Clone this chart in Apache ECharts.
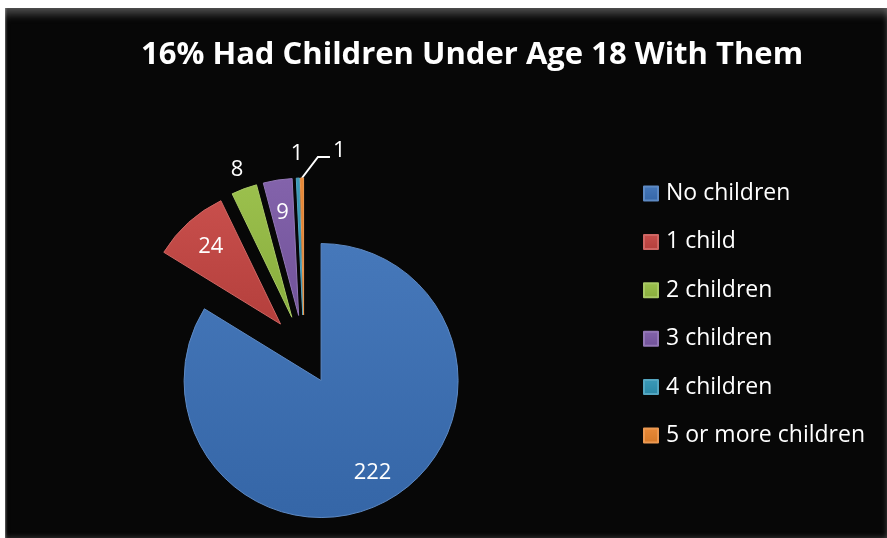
<!DOCTYPE html>
<html><head><meta charset="utf-8">
<script src="https://cdn.jsdelivr.net/npm/echarts@6/dist/echarts.min.js"></script>
<style>
html,body{margin:0;padding:0;background:#fff;width:887px;height:538px;overflow:hidden}
#frame{position:absolute;left:5px;top:8px;width:884px;height:532px;background:#070707;
 box-shadow: inset 0 10px 8px -4px rgba(190,190,190,0.38), inset 2px 0 2px -1px rgba(140,140,140,0.6), inset 0 -5px 5px -2px rgba(130,130,130,0.35), inset -5px 0 5px -2px rgba(130,130,130,0.35);}
#chart{position:absolute;left:0;top:0;width:884px;height:532px}
</style></head><body>
<div id="frame"><div id="chart"></div></div>
<script>
const titleText = '16% Had Children Under Age 18 With Them';
const categories = ['No children', '1 child', '2 children', '3 children', '4 children', '5 or more children'];
const values = [222, 24, 8, 9, 1, 1];

const colors = ['#3A6FB6', '#C44441', '#95BC42', '#7B59A6', '#2E93B3', '#E8832C'];
const CENTER = [299, 342];
const RADIUS = 137;
const EXPLODE = 35;
const FONT = 'Open Sans';
// label distance from slice apex, as a multiple of the radius
const labelRadius = [0.77, 0.76, 1.15, 0.76, 1.18, 1.0];

const total = values.reduce((a, b) => a + b, 0);
const starts = [], mids = [];
let acc = 0;
values.forEach(v => {
  const a0 = acc / total * 2 * Math.PI; acc += v;
  const a1 = acc / total * 2 * Math.PI;
  starts.push(a0);
  mids.push((a0 + a1) / 2);
});
function dir(i) { return [Math.sin(mids[i]), -Math.cos(mids[i])]; }
function apex(i) { const d = dir(i); return [CENTER[0] + EXPLODE * d[0], CENTER[1] + EXPLODE * d[1]]; }

function shade(hex, f) {
  const n = parseInt(hex.slice(1), 16);
  let r = n >> 16, g = (n >> 8) & 255, b = n & 255;
  const m = c => Math.max(0, Math.min(255, Math.round(f > 0 ? c + (255 - c) * f : c * (1 + f))));
  return 'rgb(' + m(r) + ',' + m(g) + ',' + m(b) + ')';
}
function grad(hex) {
  return new echarts.graphic.LinearGradient(0, 0, 0, 1, [
    { offset: 0, color: shade(hex, 0.06) },
    { offset: 1, color: shade(hex, -0.08) }
  ]);
}

function labelLayoutFor(i) {
  return function (params) {
    if (params.dataIndex !== 0) return {};
    const d = dir(i), a = apex(i);
    if (i === 5) {
      const tip = [a[0] + RADIUS * d[0], a[1] + RADIUS * d[1]];
      const p2 = [tip[0] + 16, tip[1] - 21];
      const p3 = [p2[0] + 12, p2[1]];
      return { x: p3[0] + 3, y: p3[1] - 6, align: 'left', verticalAlign: 'middle', labelLinePoints: [tip, p2, p3] };
    }
    const rr = labelRadius[i] * RADIUS;
    return { x: a[0] + rr * d[0], y: a[1] + rr * d[1], align: 'center', verticalAlign: 'middle' };
  };
}

const series = values.map((v, i) => ({
  type: 'pie',
  center: apex(i),
  radius: RADIUS,
  startAngle: 90 - starts[i] * 180 / Math.PI,
  clockwise: true,
  avoidLabelOverlap: false,
  emphasis: { disabled: true },
  labelLayout: labelLayoutFor(i),
  data: [
    {
      name: categories[i], value: v,
      itemStyle: { color: grad(colors[i]), borderColor: shade(colors[i], 0.18), borderWidth: 1 },
      label: { show: true, position: i === 5 ? 'outside' : 'inside', formatter: '{c}', color: '#fff', fontSize: 22, fontFamily: FONT },
      labelLine: { show: i === 5, length: 20, length2: 12, lineStyle: { color: '#fff', width: 2 } }
    },
    {
      name: '', value: total - v,
      itemStyle: { color: 'rgba(0,0,0,0)', borderWidth: 0 },
      label: { show: false }, labelLine: { show: false },
      tooltip: { show: false }
    }
  ]
}));

const chart = echarts.init(document.getElementById('chart'), null, { renderer: 'canvas' });
chart.setOption({
  backgroundColor: 'transparent',
  animation: false,
  title: {
    text: titleText, left: 136, top: 32, padding: 0,
    textStyle: { color: '#fff', fontSize: 31, fontWeight: 'bold', fontFamily: FONT }
  },
  legend: {
    orient: 'vertical', left: 638, top: 174, padding: 0,
    icon: 'rect', itemWidth: 14, itemHeight: 14, itemGap: 25.4,
    selectedMode: false,
    data: categories,
    textStyle: { color: '#fff', fontSize: 23, fontFamily: FONT, lineHeight: 22, padding: [0, 0, 0, 3] }
  },
  series: series
});
</script>
</body></html>
